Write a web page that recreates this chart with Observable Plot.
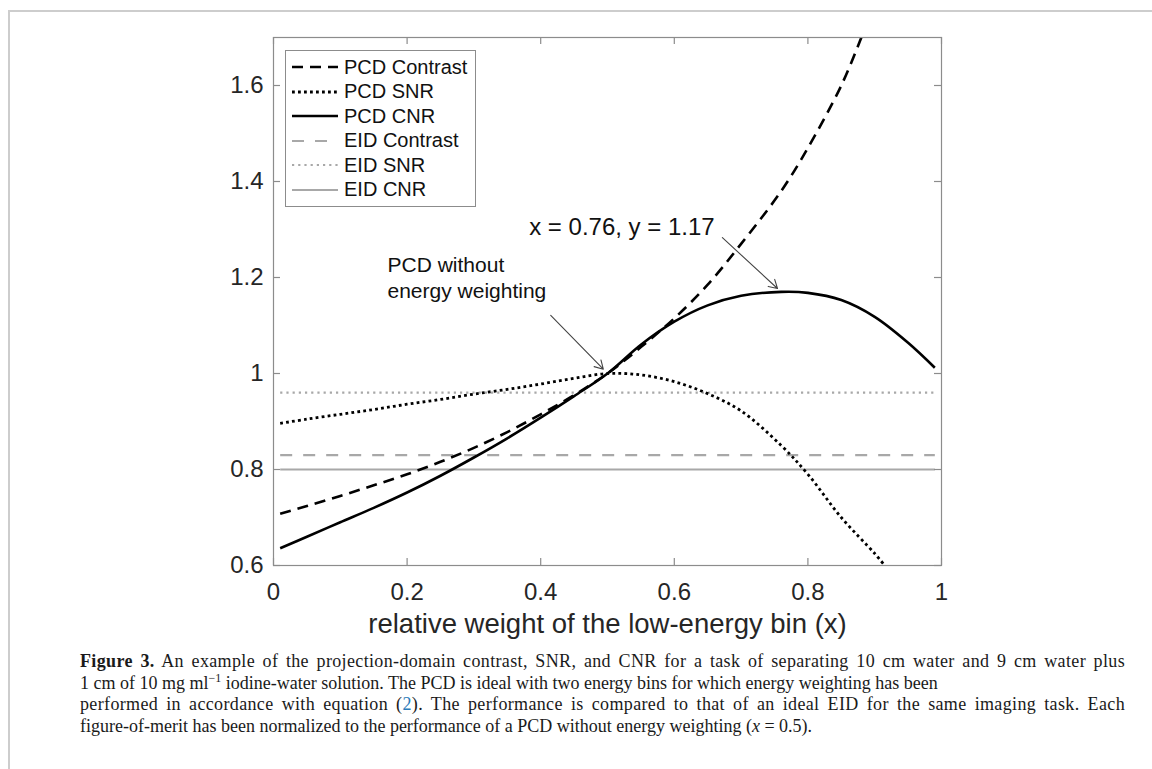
<!DOCTYPE html>
<html>
<head>
<meta charset="utf-8">
<script src="https://cdn.jsdelivr.net/npm/d3@7"></script>
<script src="https://cdn.jsdelivr.net/npm/@observablehq/plot@0.6"></script>
<style>
  body { margin: 0; background: #fff; }
  #page { position: relative; width: 1152px; height: 769px; overflow: hidden; background: #fff;
          font-family: "Liberation Sans", Arial, sans-serif; }
  #rule { position: absolute; left: 8px; top: 10px; right: -4px; bottom: -4px;
          border-left: 2px solid #cdcdcd; border-top: 2px solid #cdcdcd; }
  #chart { position: absolute; left: 0; top: 0; }
  #legend { position: absolute; left: 285px; top: 50px; background: #fff; border: 1px solid #8c8c8c;
            padding: 4px 8px 4px 6px; }
  #legend .row { display: flex; align-items: center; height: 24.5px; font-size: 20px; color: #111; white-space: nowrap; }
  #legend svg { margin-right: 6px; }
  #caption { position: absolute; left: 80px; top: 651px; width: 1045px;
             font-family: "Liberation Serif", "Times New Roman", serif;
             font-size: 18px; line-height: 21.7px; color: #1a1a1a; white-space: nowrap; }
  #caption .just { text-align: justify; text-align-last: justify; letter-spacing: 0.35px; }
  #caption sup { font-size: 12px; line-height: 0; }
  #caption .ref { color: #2b7bb9; }
</style>
</head>
<body>
<div id="page">
  <div id="rule"></div>
  <div id="chart"></div>
  <div id="legend"></div>
  <div id="caption">
    <div class="just"><b>Figure 3.</b> An example of the projection-domain contrast, SNR, and CNR for a task of separating 10 cm water and 9 cm water plus</div>
    <div>1 cm of 10 mg ml<sup>−1</sup> iodine-water solution. The PCD is ideal with two energy bins for which energy weighting has been</div>
    <div class="just">performed in accordance with equation (<span class="ref">2</span>). The performance is compared to that of an ideal EID for the same imaging task. Each</div>
    <div>figure-of-merit has been normalized to the performance of a PCD without energy weighting (<i>x</i> = 0.5).</div>
  </div>
</div>
<script>
// Relative weight of the low-energy bin (x) and normalized figures of merit
const contrastX = [0.01, 0.05, 0.1, 0.15, 0.2, 0.25, 0.3, 0.35, 0.4, 0.45, 0.5, 0.55, 0.6, 0.65, 0.7, 0.76, 0.8, 0.85, 0.88];
const pcdContrast = [0.708, 0.724, 0.745, 0.767, 0.79, 0.816, 0.845, 0.878, 0.915, 0.955, 1.0, 1.055, 1.115, 1.185, 1.27, 1.38, 1.47, 1.6, 1.7];

const snrX = [0.01, 0.05, 0.1, 0.15, 0.2, 0.25, 0.3, 0.35, 0.4, 0.45, 0.5, 0.55, 0.6, 0.65, 0.7, 0.76, 0.8, 0.85, 0.9, 0.915];
const pcdSNR = [0.896, 0.905, 0.915, 0.925, 0.936, 0.946, 0.957, 0.967, 0.978, 0.99, 1.0, 0.997, 0.983, 0.958, 0.922, 0.85, 0.79, 0.70, 0.625, 0.6];

const cnrX = [0.01, 0.05, 0.1, 0.15, 0.2, 0.25, 0.3, 0.35, 0.4, 0.45, 0.5, 0.55, 0.6, 0.65, 0.7, 0.76, 0.8, 0.85, 0.9, 0.95, 0.99];
const pcdCNR = [0.636, 0.66, 0.69, 0.72, 0.752, 0.787, 0.825, 0.865, 0.908, 0.953, 1.0, 1.06, 1.108, 1.142, 1.162, 1.17, 1.168, 1.153, 1.118, 1.064, 1.012];

// The EID does not depend on the weight: constant reference levels
const eidX = [0.01, 0.99];
const eidContrast = 0.83;
const eidSNR = 0.96;
const eidCNR = 0.80;

// CNR optimum and the unweighted PCD operating point
const optimum = {x: 0.76, y: 1.17};
const unweighted = {x: 0.5, y: 1.0};

const xTicks = [0, 0.2, 0.4, 0.6, 0.8, 1];
const xTickLabels = ["0", "0.2", "0.4", "0.6", "0.8", "1"];
const yTicks = [0.6, 0.8, 1.0, 1.2, 1.4, 1.6];
const yTickLabels = ["0.6", "0.8", "1", "1.2", "1.4", "1.6"];

const seriesNames = ["PCD Contrast", "PCD SNR", "PCD CNR", "EID Contrast", "EID SNR", "EID CNR"];
const xLabel = "relative weight of the low-energy bin (x)";

// line styles per series
const black = "#000", grey = "#a8a8a8", axisGrey = "#8c8c8c";
const styles = {
  "PCD Contrast": {stroke: black, strokeWidth: 2.6, strokeDasharray: "11,7"},
  "PCD SNR":      {stroke: black, strokeWidth: 2.8, strokeDasharray: "2.8,3.2"},
  "PCD CNR":      {stroke: black, strokeWidth: 2.6},
  "EID Contrast": {stroke: grey, strokeWidth: 2.2, strokeDasharray: "12,11"},
  "EID SNR":      {stroke: grey, strokeWidth: 2.2, strokeDasharray: "2.2,4"},
  "EID CNR":      {stroke: grey, strokeWidth: 2.2}
};

const toRows = (xs, ys) => xs.map((x, i) => ({x, y: Array.isArray(ys) ? ys[i] : ys}));

const W = 1152, H = 650, mL = 273, mR = 211, mT = 37, mB = 85;
const innerW = W - mL - mR, innerH = H - mT - mB, tickLen = 7;

const lineOpts = name => ({x: "x", y: "y", clip: true, curve: "catmull-rom", strokeLinecap: "butt", ...styles[name]});

const chart = Plot.plot({
  width: W, height: H,
  marginLeft: mL, marginRight: mR, marginTop: mT, marginBottom: mB,
  style: {fontFamily: "'Liberation Sans', Arial, sans-serif", background: "transparent", color: "#262626", overflow: "visible"},
  x: {domain: [0, 1]},
  y: {domain: [0.6, 1.7]},
  marks: [
    // EID reference levels
    Plot.line(toRows(eidX, eidContrast), lineOpts("EID Contrast")),
    Plot.line(toRows(eidX, eidSNR), lineOpts("EID SNR")),
    Plot.line(toRows(eidX, eidCNR), lineOpts("EID CNR")),
    // PCD curves
    Plot.line(toRows(contrastX, pcdContrast), lineOpts("PCD Contrast")),
    Plot.line(toRows(snrX, pcdSNR), lineOpts("PCD SNR")),
    Plot.line(toRows(cnrX, pcdCNR), lineOpts("PCD CNR")),
    // box and inward ticks on all four sides
    Plot.frame({stroke: axisGrey, strokeWidth: 1.2}),
    Plot.tickX(xTicks, {x: d => d, insetTop: innerH - tickLen, stroke: axisGrey, strokeWidth: 1.2}),
    Plot.tickX(xTicks, {x: d => d, insetBottom: innerH - tickLen, stroke: axisGrey, strokeWidth: 1.2}),
    Plot.tickY(yTicks, {y: d => d, insetLeft: innerW - tickLen, stroke: axisGrey, strokeWidth: 1.2}),
    Plot.tickY(yTicks, {y: d => d, insetRight: innerW - tickLen, stroke: axisGrey, strokeWidth: 1.2}),
    Plot.axisX({ticks: xTicks, tickFormat: d => xTickLabels[xTicks.indexOf(d)], tickSize: 0, tickPadding: 17,
                fontSize: 24, fill: "#262626", label: null}),
    Plot.axisY({ticks: yTicks, tickFormat: d => yTickLabels[yTicks.indexOf(d)], tickSize: 0, tickPadding: 10,
                fontSize: 24, fill: "#262626", label: null}),
    Plot.text([xLabel], {frameAnchor: "bottom", dy: 59, fontSize: 27.5, fill: "#262626", lineAnchor: "middle"}),
    // annotations
    Plot.arrow([optimum], {x1: 0.672, y1: 1.283, x2: "x", y2: "y", stroke: "#444", strokeWidth: 1.1,
                           headLength: 13, insetEnd: 5}),
    Plot.text([optimum], {x: "x", y: "y", text: d => `x = ${d.x}, y = ${d.y}`, dx: -252, dy: -65,
                          textAnchor: "start", fontSize: 24, fill: "#111"}),
    Plot.arrow([unweighted], {x1: 0.415, y1: 1.121, x2: "x", y2: "y", stroke: "#444", strokeWidth: 1.1,
                              headLength: 13, insetEnd: 6}),
    Plot.text([unweighted], {x: "x", y: "y", text: () => "PCD without\nenergy weighting", dx: -220, dy: -97,
                             textAnchor: "start", lineHeight: 1.25, fontSize: 21, fill: "#111"})
  ]
});
document.getElementById("chart").appendChild(chart);

// legend box in the upper-left corner of the axes
const legend = document.getElementById("legend");
for (const name of seriesNames) {
  const s = styles[name];
  const row = document.createElement("div");
  row.className = "row";
  const ns = "http://www.w3.org/2000/svg";
  const svg = document.createElementNS(ns, "svg");
  svg.setAttribute("width", 46); svg.setAttribute("height", 10);
  const ln = document.createElementNS(ns, "line");
  ln.setAttribute("x1", 0); ln.setAttribute("x2", 46); ln.setAttribute("y1", 5); ln.setAttribute("y2", 5);
  ln.setAttribute("stroke", s.stroke); ln.setAttribute("stroke-width", s.strokeWidth);
  if (s.strokeDasharray) ln.setAttribute("stroke-dasharray", s.strokeDasharray);
  svg.appendChild(ln);
  row.appendChild(svg);
  row.appendChild(document.createTextNode(name));
  legend.appendChild(row);
}
</script>
</body>
</html>
